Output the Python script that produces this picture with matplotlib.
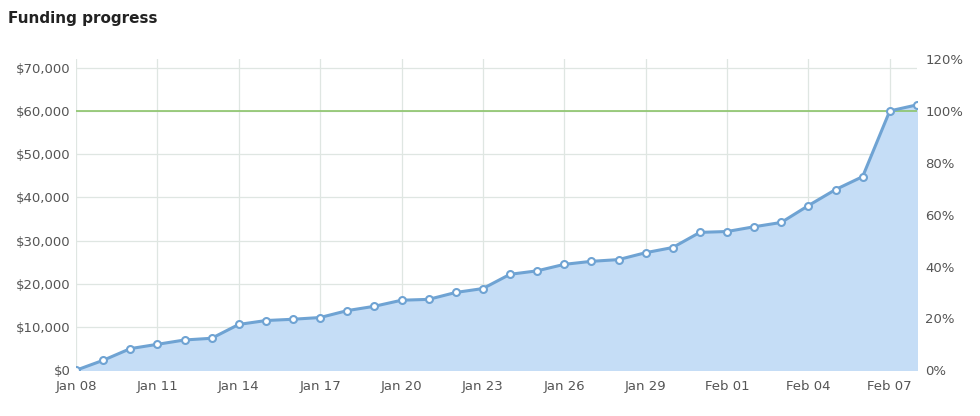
import matplotlib
matplotlib.use("Agg")
import matplotlib.pyplot as plt
import matplotlib.dates as mdates
import numpy as np
import datetime as dt

start = dt.date(2013, 1, 8)
dates = [start + dt.timedelta(days=i) for i in range(32)]
funding = [0, 2300, 5000, 6000, 7000, 7400, 10600, 11500, 11800, 12200, 13800, 14800,
           16200, 16400, 18000, 18900, 22200, 23000, 24500, 25200, 25600, 27200, 28400,
           31900, 32100, 33200, 34200, 38100, 41800, 44800, 60000, 61400]
goal = 60000
left_ticks = [0, 10000, 20000, 30000, 40000, 50000, 60000, 70000]
right_ticks = [0, 20, 40, 60, 80, 100, 120]

fig = plt.figure(figsize=(9.8, 4.16), dpi=100)
ax = fig.add_axes([0.0776, 0.11, 0.858, 0.748])
x = mdates.date2num(dates)
ax.fill_between(x, funding, color="#c5ddf6", zorder=1)
ax.plot(x, funding, color="#6fa3d3", lw=2.2, zorder=3)
ax.plot(x, funding, "o", ms=5, mfc="white", mec="#6fa3d3", mew=1.5, zorder=4)
ax.axhline(goal, color="#8cc46a", lw=1.2, zorder=2)
ax.set_xlim(x[0], x[-1])
ax.set_ylim(0, 72000)
ax.set_yticks(left_ticks)
ax.set_yticklabels([f"${v:,}" for v in left_ticks])
tick_dates = dates[::3]
ax.set_xticks(mdates.date2num(tick_dates))
ax.set_xticklabels([d.strftime("%b %d") for d in tick_dates])
ax.grid(True, color="#dfe6e2", lw=0.9, zorder=0)
ax.set_axisbelow(True)
for s in ax.spines.values():
    s.set_visible(False)
ax.tick_params(axis="y", length=0, labelsize=9.5, colors="#555555", pad=4)
ax.tick_params(axis="x", length=0, labelsize=9.5, colors="#555555", pad=7)

ax2 = ax.twinx()
ax2.set_ylim(0, 72000 / goal * 100)
ax2.set_yticks(right_ticks)
ax2.set_yticklabels([f"{v}%" for v in right_ticks])
for s in ax2.spines.values():
    s.set_visible(False)
ax2.tick_params(length=0, labelsize=9.5, colors="#555555", pad=6)

fig.text(0.008, 0.945, "Funding progress", fontsize=11, fontweight="bold", color="#222222")
fig.savefig("out.png", dpi=100)
